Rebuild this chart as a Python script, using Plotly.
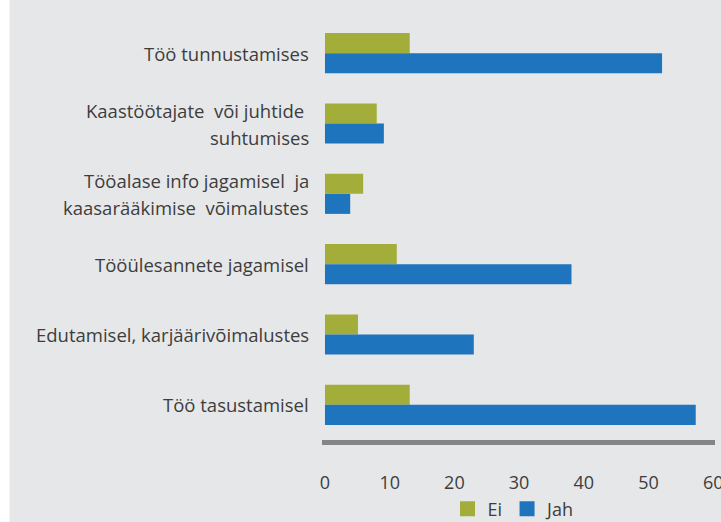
import plotly.graph_objects as go

# Survey answers: share of respondents (%) per area of unequal treatment
categories = [
    "Töö tunnustamises",
    "Kaastöötajate või juhtide suhtumises",
    "Tööalase info jagamisel ja kaasarääkimise võimalustes",
    "Tööülesannete jagamisel",
    "Edutamisel, karjäärivõimalustes",
    "Töö tasustamisel",
]
label_lines = [
    ["Töö tunnustamises"],
    ["Kaastöötajate\u00a0 või juhtide\u00a0", "suhtumises"],
    ["Tööalase info jagamisel\u00a0 ja", "kaasarääkimise\u00a0 võimalustes"],
    ["Tööülesannete jagamisel"],
    ["Edutamisel, karjäärivõimalustes"],
    ["Töö tasustamisel"],
]
series_names = ["Ei", "Jah"]
ei_values = [13.1, 8.0, 5.9, 11.1, 5.1, 13.1]
jah_values = [52.1, 9.1, 3.9, 38.1, 23.0, 57.3]
x_ticks = [0, 10, 20, 30, 40, 50, 60]

GREEN = "#a3ae3a"
BLUE = "#1e74bd"
BG = "#e6e7e9"
TEXT = "#3d3d3d"
FONT = "Open Sans"

W, H = 721, 522
L, R, T, B = 322, 6, 18, 82
plot_w = W - L - R
plot_h = H - T - B


def px_x(p):
    return (p - L) / plot_w


def px_y(p):
    return (H - B - p) / plot_h


fig = go.Figure()
for name, vals, col in [(series_names[0], ei_values, GREEN), (series_names[1], jah_values, BLUE)]:
    fig.add_trace(go.Bar(
        y=categories, x=vals, name=name, orientation="h",
        marker=dict(color=col, line=dict(width=0)),
        showlegend=False,
    ))
    # legend entry with a larger square swatch
    fig.add_trace(go.Scatter(
        x=[None], y=[None], mode="markers", name=name,
        marker=dict(symbol="square", size=15, color=col),
    ))

# category labels, one annotation per text line
for cat, lines in zip(categories, label_lines):
    n = len(lines)
    for i, line in enumerate(lines):
        shift = (n - 1) * 13.5 - i * 27
        fig.add_annotation(
            x=px_x(311), xref="paper", y=cat, yref="y",
            text=line, showarrow=False, xanchor="right", yanchor="middle",
            yshift=shift, font=dict(family=FONT, size=18.5, color=TEXT),
        )

# white strip along the left edge of the page
fig.add_shape(
    type="rect", xref="paper", yref="paper",
    x0=px_x(-2), x1=px_x(9.5), y0=px_y(H + 2), y1=px_y(-2),
    fillcolor="white", line=dict(width=0), layer="below",
)

fig.update_layout(
    width=W, height=H,
    margin=dict(l=L, r=R, t=T, b=B, pad=0, autoexpand=False),
    paper_bgcolor=BG, plot_bgcolor=BG,
    barmode="group", bargap=0.43, bargroupgap=0,
    font=dict(family=FONT, size=18, color=TEXT),
    showlegend=True,
    legend=dict(
        orientation="h", x=px_x(514), xanchor="center",
        y=px_y(509), yanchor="middle",
        bgcolor="rgba(0,0,0,0)", font=dict(size=18, color=TEXT),
        itemwidth=30, tracegroupgap=0,
    ),
    xaxis=dict(
        range=[-0.46, 60.28], tickvals=x_ticks, ticktext=[str(v) for v in x_ticks],
        showgrid=False, zeroline=False, showline=True, linewidth=5,
        linecolor="#858585", ticks="", ticklabelstandoff=22,
        ticklabeloverflow="allow",
        tickfont=dict(family=FONT, size=18, color=TEXT),
    ),
    yaxis=dict(
        autorange="reversed", showticklabels=False, showgrid=False,
        zeroline=False, showline=False, ticks="",
    ),
)

fig.write_html("out.html")
